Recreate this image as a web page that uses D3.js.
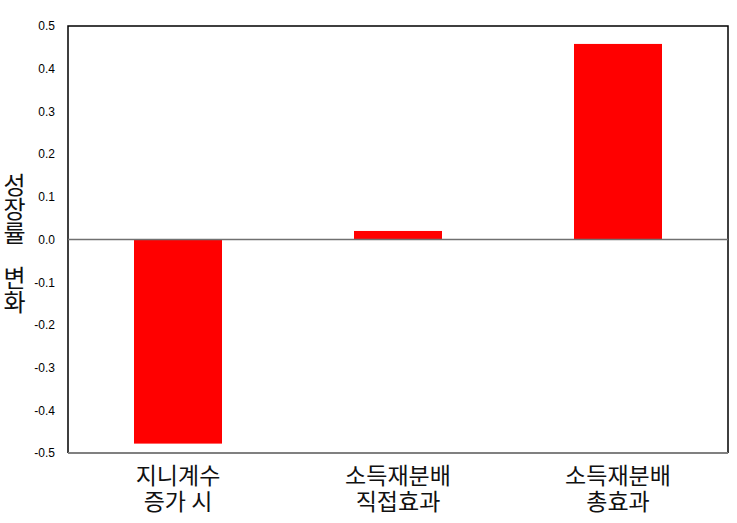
<!DOCTYPE html>
<html><head><meta charset="utf-8">
<script src="https://cdn.jsdelivr.net/npm/d3@7"></script>
<style>
body{margin:0;background:#fff}
#wrap{position:relative;width:737px;height:523px}
#c{position:absolute;left:0;top:0}
.xl{position:absolute;text-align:center;font-family:'Noto Sans CJK KR',sans-serif;font-size:23px;line-height:26px;color:#111;white-space:pre}
.yt{position:absolute;writing-mode:vertical-rl;text-orientation:upright;font-family:'Noto Sans CJK KR',sans-serif;font-size:24px;line-height:25px;color:#111;white-space:nowrap}
</style>
</head><body>
<div id="wrap"><svg id="c" width="737" height="523"></svg></div>
<script>
const categories = ["지니계수\n증가 시", "소득재분배\n직접효과", "소득재분배\n총효과"];
const values = [-0.478, 0.020, 0.458];
const yTicks = [0.5, 0.4, 0.3, 0.2, 0.1, 0.0, -0.1, -0.2, -0.3, -0.4, -0.5];
const yTitle = "성장률 변화";

const svg = d3.select("#c");
const wrap = d3.select("#wrap");
const m = {left: 68, right: 9, top: 26, bottom: 70};
const W = 737, H = 523;
const x = d3.scaleBand().domain(categories).range([m.left, W - m.right]).paddingInner(0.6).paddingOuter(0.3);
const y = d3.scaleLinear().domain([-0.5, 0.5]).range([H - m.bottom, m.top]);

svg.selectAll("rect.bar").data(values).join("rect")
  .attr("class", "bar")
  .attr("x", (d, i) => x(categories[i]))
  .attr("width", x.bandwidth())
  .attr("y", d => y(Math.max(0, d)))
  .attr("height", d => Math.abs(y(d) - y(0)))
  .attr("fill", "#ff0000");

// frame
const x0 = m.left, x1 = W - m.right, yT = y(0.5), yB = y(-0.5);
svg.append("path").attr("d", `M${x0},${yB}V${yT}H${x1}V${yB}`).attr("fill", "none").attr("stroke", "#000").attr("stroke-width", 1.5);
svg.append("line").attr("x1", x0).attr("x2", x1).attr("y1", yB).attr("y2", yB).attr("stroke", "#808080").attr("stroke-width", 2);
svg.append("line").attr("x1", x0).attr("x2", x1).attr("y1", y(0)).attr("y2", y(0)).attr("stroke", "#707070").attr("stroke-width", 1.5);

// y tick labels
const fmt = d3.format(".1f");
const yAxis = d3.axisLeft(y).tickValues(yTicks).tickFormat(d => fmt(d).replace("−", "-")).tickSize(0).tickPadding(13);
const ga = svg.append("g").attr("transform", `translate(${x0},0)`).call(yAxis);
ga.select(".domain").remove();
ga.selectAll("text").attr("font-family", "'Liberation Sans', Arial, sans-serif").attr("font-size", 12).attr("fill", "#000");

// x labels (two lines, tight line spacing)
const labW = x.step();
wrap.selectAll("div.xl").data(categories).join("div")
  .attr("class", "xl")
  .style("left", d => (x(d) + x.bandwidth() / 2 - labW / 2) + "px")
  .style("width", labW + "px")
  .style("top", (yB + 8) + "px")
  .text(d => d);

// y title: vertical upright text, one block per word
const words = yTitle.split(" ");
const wordTop = [173, 266];
wrap.selectAll("div.yt").data(words).join("div")
  .attr("class", "yt")
  .style("left", "2px")
  .style("top", (d, i) => wordTop[i] + "px")
  .text(d => d);
</script>
</body></html>
